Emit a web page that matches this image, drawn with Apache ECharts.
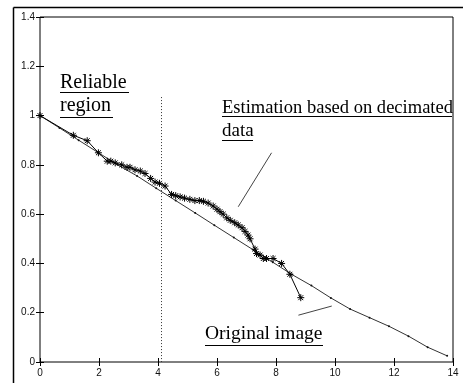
<!DOCTYPE html>
<html>
<head>
<meta charset="utf-8">
<script src="https://cdn.jsdelivr.net/npm/echarts@6/dist/echarts.min.js"></script>
<style>
  html, body { margin: 0; padding: 0; background: #fff; }
  #chart { width: 463px; height: 383px; }
</style>
</head>
<body>
<div id="chart"></div>
<script>
// original image curve (small dots along the line)
var origX = [0, 0.66, 1.31, 1.97, 2.63, 3.29, 3.94, 4.6, 5.26, 5.91, 6.57,
    7.23, 7.89, 8.54, 9.2, 9.86, 10.51, 11.17, 11.83, 12.49, 13.14, 13.8];
var origY = [1.0, 0.95, 0.9, 0.85, 0.8, 0.755, 0.705, 0.655, 0.605, 0.555, 0.505,
    0.455, 0.405, 0.355, 0.31, 0.26, 0.215, 0.18, 0.145, 0.105, 0.06, 0.025];

// estimation based on decimated data (asterisks)
var estX = [0, 1.13, 1.6, 1.98, 2.28, 2.4, 2.55, 2.77, 2.95, 3.05, 3.22, 3.4, 3.56,
    3.75, 3.9, 4.05, 4.24, 4.46, 4.6, 4.75, 4.9, 5.08, 5.25, 5.4, 5.54, 5.7, 5.87,
    6.0, 6.1, 6.21, 6.33, 6.45, 6.6, 6.72, 6.85, 6.95, 7.05, 7.12, 7.29, 7.34,
    7.46, 7.57, 7.68, 7.9, 8.19, 8.47, 8.84];
var estY = [1.0, 0.92, 0.898, 0.849, 0.815, 0.815, 0.808, 0.8, 0.79, 0.79, 0.78, 0.775, 0.765,
    0.745, 0.73, 0.725, 0.714, 0.68, 0.675, 0.67, 0.665, 0.66, 0.655, 0.655, 0.652, 0.645, 0.633,
    0.62, 0.61, 0.6, 0.585, 0.575, 0.565, 0.556, 0.545, 0.53, 0.515, 0.5, 0.458, 0.44,
    0.434, 0.42, 0.42, 0.42, 0.4, 0.356, 0.261];

var xTicks = [0, 14, 2];     // min, max, step
var yTicks = [0, 1.4, 0.2];

// guide lines: reliable-region border and the two label pointers
var reliableX = 4.1;
var reliableTop = 1.075;
var estPointer = [[7.85, 0.849], [6.72, 0.63]];
var origPointer = [[8.76, 0.19], [9.89, 0.227]];

function pairs(xs, ys) {
    var out = [];
    for (var i = 0; i < xs.length; i++) out.push([xs[i], ys[i]]);
    return out;
}

var star = 'path://M0,5L10,5M5,0L5,10M1.5,1.5L8.5,8.5M8.5,1.5L1.5,8.5';
var serif = '"Liberation Serif", "Times New Roman", serif';

function axisX(pos, labels) {
    return {
        type: 'value', position: pos, min: xTicks[0], max: xTicks[1], interval: xTicks[2],
        axisLine: { show: false },
        axisTick: { show: true, inside: true, length: 4, lineStyle: { color: '#000' } },
        splitLine: { show: false },
        axisLabel: { show: labels, color: '#111', fontSize: 10, margin: 6, fontFamily: 'Liberation Sans' }
    };
}
function axisY(pos, labels) {
    return {
        type: 'value', position: pos, min: yTicks[0], max: yTicks[1], interval: yTicks[2],
        axisLine: { show: false },
        axisTick: { show: true, inside: true, length: 4, lineStyle: { color: '#000' } },
        splitLine: { show: false },
        axisLabel: { show: labels, color: '#111', fontSize: 10, margin: 5, fontFamily: 'Liberation Sans',
            formatter: function (v) { return String(+v.toFixed(1)); } }
    };
}

var myChart = echarts.init(document.getElementById('chart'));
var option = {
    animation: false,
    backgroundColor: '#fff',
    grid: { left: 40, right: 10, top: 17, bottom: 21, show: true, borderColor: '#000', borderWidth: 1 },
    xAxis: [axisX('bottom', true), axisX('top', false)],
    yAxis: [axisY('left', true), axisY('right', false)],
    series: [{
        name: 'Original image',
        type: 'line',
        data: pairs(origX, origY),
        symbol: 'circle',
        symbolSize: 2,
        showAllSymbol: true,
        lineStyle: { color: '#333', width: 1 },
        itemStyle: { color: '#111' },
        markLine: {
            silent: true,
            symbol: ['none', 'none'],
            label: { show: false },
            data: [
                [{ coord: [reliableX, reliableTop], lineStyle: { type: [1, 2], color: '#333', width: 1 } },
                 { coord: [reliableX, 0] }],
                [{ coord: estPointer[0], lineStyle: { type: 'solid', color: '#444', width: 1 } },
                 { coord: estPointer[1] }],
                [{ coord: origPointer[0], lineStyle: { type: 'solid', color: '#444', width: 1 } },
                 { coord: origPointer[1] }]
            ]
        }
    }, {
        name: 'Estimation',
        type: 'line',
        data: pairs(estX, estY),
        symbol: star,
        symbolSize: 7,
        showAllSymbol: true,
        lineStyle: { color: '#000', width: 1 },
        itemStyle: { color: '#000', borderColor: '#000', borderWidth: 1 }
    }],
    graphic: [
        // figure frame
        { type: 'line', shape: { x1: 13.5, y1: 7.5, x2: 463, y2: 7.5 }, style: { stroke: '#000', lineWidth: 1.5 } },
        { type: 'line', shape: { x1: 13.5, y1: 7.5, x2: 13.5, y2: 383 }, style: { stroke: '#000', lineWidth: 1.5 } },
        // annotations
        { type: 'text', x: 60, y: 83, style: { text: 'Reliable', font: '20px ' + serif, fill: '#000', verticalAlign: 'middle' } },
        { type: 'line', shape: { x1: 60, y1: 92.5, x2: 129, y2: 92.5 }, style: { stroke: '#000', lineWidth: 1 } },
        { type: 'text', x: 60, y: 106, style: { text: 'region', font: '20px ' + serif, fill: '#000', verticalAlign: 'middle' } },
        { type: 'line', shape: { x1: 60, y1: 117.5, x2: 113, y2: 117.5 }, style: { stroke: '#000', lineWidth: 1 } },
        { type: 'text', x: 222, y: 108, scaleX: 0.975, style: { text: 'Estimation based on decimated', font: '19px ' + serif, fill: '#000', verticalAlign: 'middle' } },
        { type: 'line', shape: { x1: 222, y1: 116.5, x2: 452, y2: 116.5 }, style: { stroke: '#000', lineWidth: 1 } },
        { type: 'text', x: 222, y: 131, style: { text: 'data', font: '19px ' + serif, fill: '#000', verticalAlign: 'middle' } },
        { type: 'line', shape: { x1: 222, y1: 140.5, x2: 253, y2: 140.5 }, style: { stroke: '#000', lineWidth: 1 } },
        { type: 'text', x: 205, y: 334, style: { text: 'Original image', font: '19.5px ' + serif, fill: '#000', verticalAlign: 'middle' } },
        { type: 'line', shape: { x1: 205, y1: 345.5, x2: 323, y2: 345.5 }, style: { stroke: '#000', lineWidth: 1 } }
    ]
};
myChart.setOption(option);
</script>
</body>
</html>
